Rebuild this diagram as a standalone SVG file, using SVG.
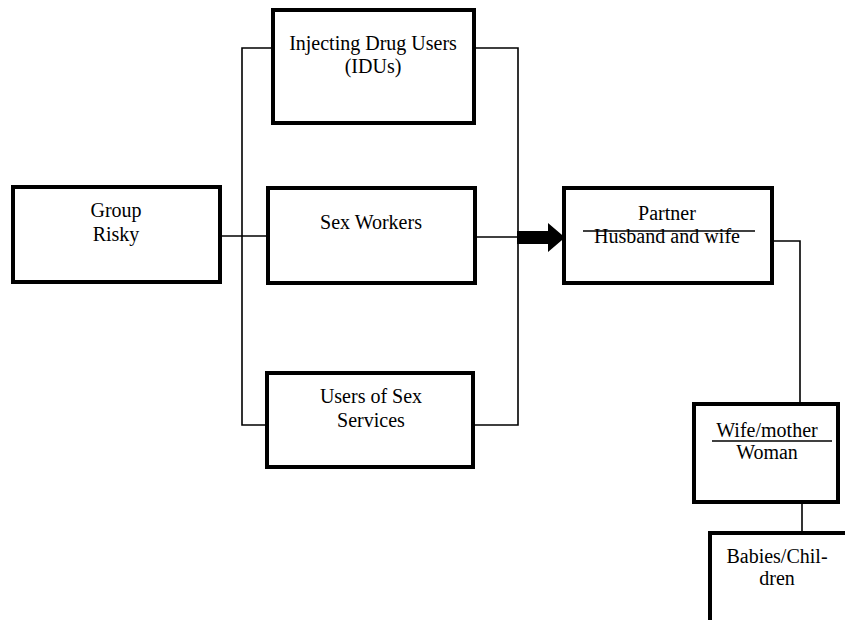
<svg xmlns="http://www.w3.org/2000/svg" width="845" height="620" viewBox="0 0 845 620">
<style>
.box{fill:#fff;stroke:#000;stroke-width:4}
.ln{fill:none;stroke:#000;stroke-width:1.6}
text{font-family:"Liberation Serif","Times New Roman",serif;font-size:20px;fill:#000;text-anchor:middle}
</style>
<rect width="845" height="620" fill="#fff"/>
<g id="connectors">
<path class="ln" d="M220 236 H268"/>
<path class="ln" d="M273 48 H242 V425 H267"/>
<path class="ln" d="M474 48 H518 V425 H473"/>
<path class="ln" d="M475 237 H518"/>
<path class="ln" d="M772 241 H800 V404"/>
<path class="ln" d="M802 502 V533"/>
<path d="M517 231 H548 V223 L565 237.5 L548 252 V244 H517 Z" fill="#000"/>
</g>
<g id="group-risky">
<rect class="box" x="13" y="187" width="207" height="95"/>
<text x="116" y="217">Group</text>
<text x="116" y="241">Risky</text>
</g>
<g id="idus">
<rect class="box" x="273" y="10" width="201" height="113"/>
<text x="373" y="50">Injecting Drug Users</text>
<text x="373" y="73">(IDUs)</text>
</g>
<g id="sex-workers">
<rect class="box" x="268" y="188" width="207" height="95"/>
<text x="371" y="229">Sex Workers</text>
</g>
<g id="users-sex-services">
<rect class="box" x="267" y="373" width="206" height="94"/>
<text x="371" y="403">Users of Sex</text>
<text x="371" y="427">Services</text>
</g>
<g id="partner">
<rect class="box" x="564" y="188" width="208" height="95"/>
<text x="667" y="220">Partner</text>
<text x="667" y="243" textLength="146" lengthAdjust="spacingAndGlyphs">Husband and wife</text>
<path class="ln" d="M583 231 H755"/>
</g>
<g id="wife-mother">
<rect class="box" x="694" y="404" width="144" height="98"/>
<text x="767" y="437">Wife/mother</text>
<path class="ln" d="M712 441 H832"/>
<text x="767" y="459">Woman</text>
</g>
<g id="babies">
<rect class="box" x="710" y="533" width="150" height="100"/>
<text x="777" y="563">Babies/Chil-</text>
<text x="777" y="585">dren</text>
</g>
</svg>
